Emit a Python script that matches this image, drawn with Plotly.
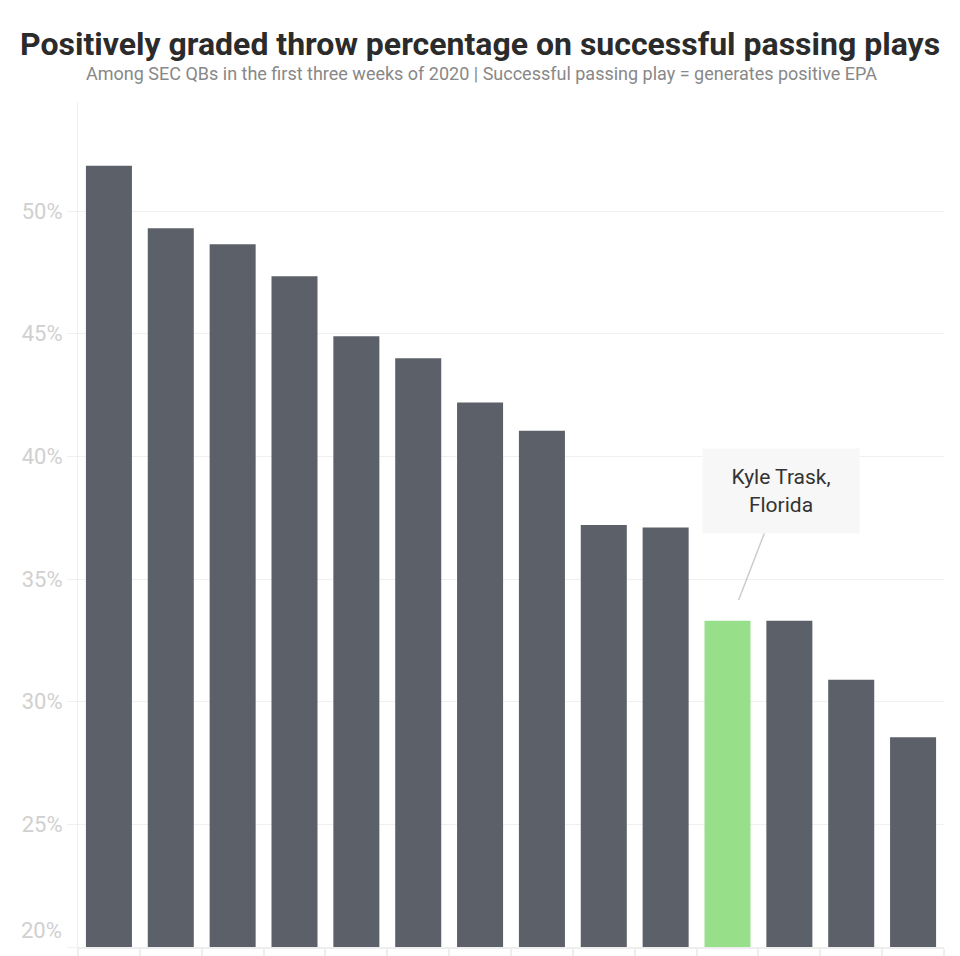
import plotly.graph_objects as go

# Data
qbs = ["QB 1", "QB 2", "QB 3", "QB 4", "QB 5", "QB 6", "QB 7", "QB 8",
       "QB 9", "QB 10", "Kyle Trask", "QB 12", "QB 13", "QB 14"]
pct = [51.85, 49.3, 48.65, 47.35, 44.9, 44.0, 42.2, 41.05,
       37.2, 37.1, 33.3, 33.3, 30.9, 28.55]
highlight = "Kyle Trask"
tick_vals = [20, 25, 30, 35, 40, 45, 50]
tick_text = ["", "25%", "30%", "35%", "40%", "45%", "50%"]

colors = ["#98df8a" if q == highlight else "#5c6068" for q in qbs]

fig = go.Figure(go.Bar(x=qbs, y=pct, marker=dict(color=colors, line=dict(width=0)),
                       hoverinfo="x+y"))

hi_idx = qbs.index(highlight)

fig.update_layout(
    width=960, height=956,
    paper_bgcolor="white", plot_bgcolor="white",
    margin=dict(l=78, r=16, t=102, b=9, autoexpand=False),
    bargap=0.256,
    showlegend=False,
    font=dict(family="Roboto", color="#333"),
    xaxis=dict(
        showticklabels=False, showgrid=False, zeroline=False, automargin=False,
        showline=True, linecolor="#eeeeee", linewidth=2,
        ticks="outside", tickson="boundaries", ticklen=8, tickcolor="#eeeeee", tickwidth=2,
        fixedrange=True,
    ),
    yaxis=dict(
        range=[20, 54.45], tickvals=tick_vals, ticktext=tick_text, automargin=False,
        showgrid=True, gridcolor="#f0f0f0", gridwidth=1, zeroline=False,
        showline=True, linecolor="#f0f0f0", linewidth=1,
        ticks="outside", ticklen=10, tickcolor="#f0f0f0",
        tickfont=dict(family="Roboto", size=22, color="#d0d0d0"),
        fixedrange=True,
    ),
    annotations=[
        dict(text="<b>Positively graded throw percentage on successful passing plays</b>",
             xref="paper", yref="paper", x=(480 - 78) / 866, xanchor="center",
             y=1 + (102 - 44) / 845, yanchor="middle", showarrow=False,
             font=dict(family="Roboto", size=32, color="#2b2b2b", weight=900)),
        dict(text="Among SEC QBs in the first three weeks of 2020 | Successful passing play = generates positive EPA",
             xref="paper", yref="paper", x=(481 - 78) / 866, xanchor="center",
             y=1 + (102 - 74) / 845, yanchor="middle", showarrow=False,
             font=dict(family="Roboto", size=18, color="#888888")),
        dict(text="20%", xref="paper", yref="y", x=0, y=20, xanchor="right", yanchor="bottom",
             xshift=-14, yshift=2, showarrow=False,
             font=dict(family="Roboto", size=22, color="#d0d0d0")),
        dict(text="Kyle Trask,<br>Florida", xref="x", yref="y",
             x=hi_idx + 0.18, y=34.15, showarrow=True, arrowhead=0, arrowwidth=1.5,
             arrowcolor="#cccccc", ax=42, ay=-109, standoff=0,
             bgcolor="#f7f7f7", borderpad=14, width=128, height=56,
             font=dict(family="Roboto", size=21, color="#333333")),
    ],
)

fig.write_html("out.html", config={"displayModeBar": False},
               post_script="document.body.style.margin='0';document.body.style.padding='0';")
